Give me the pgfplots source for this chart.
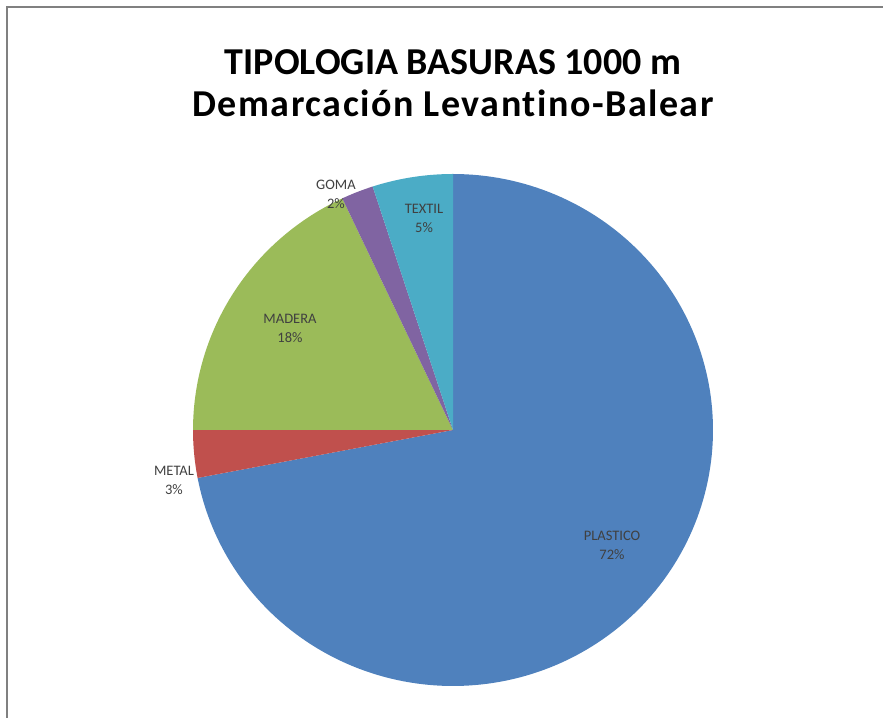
\documentclass[border=0pt]{standalone}
\usepackage{pgfplots}
\pgfplotsset{compat=1.18}
\usepackage{fontspec}
\setmainfont{Carlito}[Ligatures=NoCommon]
\definecolor{cPla}{HTML}{4F81BD}
\definecolor{cMet}{HTML}{C0504D}
\definecolor{cMad}{HTML}{9BBB59}
\definecolor{cGom}{HTML}{8064A2}
\definecolor{cTex}{HTML}{4BACC6}
\definecolor{lab}{HTML}{404040}
\definecolor{frame}{HTML}{808080}
\begin{document}
\begin{tikzpicture}
\useasboundingbox (0,0) rectangle (883bp,718bp);
\begin{axis}[
  at={(0,0)}, anchor=south west,
  width=883bp, height=718bp, scale only axis,
  xmin=0, xmax=883, ymin=0, ymax=718,
  hide axis, clip=false,
]
% values (percent): PLASTICO 72, METAL 3, MADERA 18, GOMA 2, TEXTIL 5
% pie centre (453,288), radii 260 x 256, clockwise from 12 o'clock
\addplot[fill=cPla, draw=none, domain={90-3.6*72}:{90}, samples=180, variable=\t]
  ({453+260*cos(\t)},{288+256*sin(\t)}) -- (453,288) -- cycle;
\addplot[fill=cMet, draw=none, domain={90-3.6*(72+3)}:{90-3.6*72}, samples=20, variable=\t]
  ({453+260*cos(\t)},{288+256*sin(\t)}) -- (453,288) -- cycle;
\addplot[fill=cMad, draw=none, domain={90-3.6*(72+3+18)}:{90-3.6*(72+3)}, samples=60, variable=\t]
  ({453+260*cos(\t)},{288+256*sin(\t)}) -- (453,288) -- cycle;
\addplot[fill=cGom, draw=none, domain={90-3.6*(72+3+18+2)}:{90-3.6*(72+3+18)}, samples=10, variable=\t]
  ({453+260*cos(\t)},{288+256*sin(\t)}) -- (453,288) -- cycle;
\addplot[fill=cTex, draw=none, domain={90-3.6*100}:{90-3.6*(72+3+18+2)}, samples=20, variable=\t]
  ({453+260*cos(\t)},{288+256*sin(\t)}) -- (453,288) -- cycle;

\draw[frame, line width=2.5bp] (7,0) -- (7,711) -- (883,711);

\node[font=\fontsize{38bp}{42bp}\selectfont\bfseries, text=black] at (453,656)
  {TIPOLOGIA BASURAS 1000 m};
\node[font=\fontsize{38bp}{42bp}\selectfont\bfseries\addfontfeature{LetterSpace=4}, text=black] at (453,615)
  {Demarcación Levantino-Balear};

\tikzset{lbl/.style={align=center, text=lab, font=\fontsize{14.5bp}{19bp}\selectfont}}
\node[lbl] at (336,524) {GOMA\\2\%};
\node[lbl] at (424,500) {TEXTIL\\5\%};
\node[lbl] at (290,390) {MADERA\\18\%};
\node[lbl] at (174,238) {METAL\\3\%};
\node[lbl] at (612,173) {PLASTICO\\72\%};
\end{axis}
\end{tikzpicture}
\end{document}
